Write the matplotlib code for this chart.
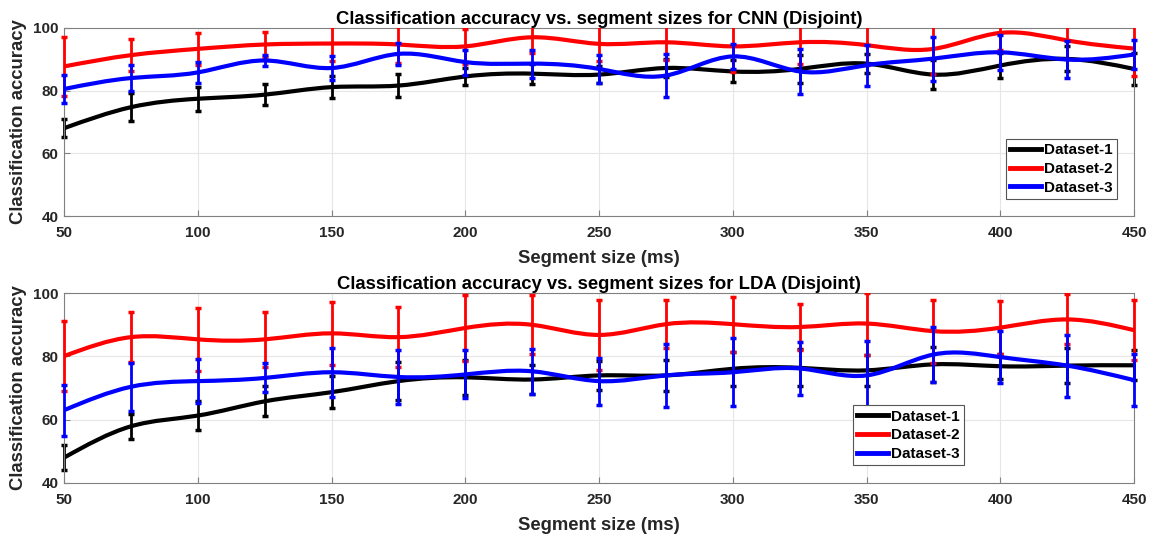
import matplotlib
matplotlib.use("Agg")
import matplotlib.pyplot as plt
import numpy as np
from matplotlib.path import Path
from matplotlib.patches import PathPatch, Rectangle
from matplotlib.lines import Line2D

plt.rcParams['font.family'] = ['Liberation Sans', 'DejaVu Sans']
plt.rcParams['font.weight'] = 'bold'

seg = [50, 75, 100, 125, 150, 175, 200, 225, 250, 275, 300, 325, 350, 375, 400, 425, 450]

# CNN (Disjoint)
cnn_d1 = [68.0, 74.7, 77.4, 78.7, 81.1, 81.6, 84.5, 85.4, 85.1, 87.2, 86.1, 86.9, 88.6, 85.1, 88.0, 90.1, 86.9]
cnn_d1_err = [2.9, 4.5, 3.9, 3.4, 3.4, 3.8, 2.8, 3.2, 2.8, 3.0, 3.5, 4.5, 3.0, 4.5, 4.0, 4.0, 5.0]
cnn_d2 = [87.7, 91.3, 93.3, 94.7, 95.0, 94.7, 94.1, 97.0, 94.9, 95.4, 94.1, 95.4, 94.5, 93.3, 98.4, 96.0, 93.4]
cnn_d2_err = [9.5, 5.2, 5.0, 4.0, 5.5, 6.0, 5.5, 5.0, 5.6, 5.8, 8.3, 7.0, 6.5, 8.0, 5.5, 6.0, 8.6]
cnn_d3 = [80.5, 84.0, 85.8, 89.6, 87.2, 91.7, 89.1, 88.6, 86.9, 84.8, 90.9, 86.1, 88.1, 90.2, 92.2, 89.9, 91.5]
cnn_d3_err = [4.5, 4.0, 3.3, 1.8, 3.8, 3.5, 4.0, 4.5, 4.5, 7.0, 4.0, 7.3, 6.5, 7.0, 5.6, 6.0, 4.7]

# LDA (Disjoint)
lda_d1 = [48.0, 57.9, 61.3, 65.8, 68.7, 72.2, 73.4, 72.7, 74.0, 74.0, 76.1, 76.4, 75.6, 77.5, 76.9, 77.1, 77.2]
lda_d1_err = [4.0, 4.0, 4.6, 4.7, 5.0, 6.0, 5.5, 4.5, 4.5, 5.0, 5.4, 5.8, 4.9, 5.6, 4.0, 5.5, 4.8]
lda_d2 = [80.1, 86.1, 85.4, 85.4, 87.3, 86.1, 89.0, 90.0, 86.8, 90.2, 90.2, 89.3, 90.4, 88.0, 89.1, 91.7, 88.3]
lda_d2_err = [11.0, 8.0, 10.0, 8.7, 10.0, 9.5, 10.3, 9.3, 11.0, 7.5, 8.7, 7.4, 9.8, 10.0, 8.4, 7.9, 9.5]
lda_d3 = [63.0, 70.4, 72.2, 73.2, 75.0, 73.5, 74.3, 75.3, 72.2, 74.0, 75.0, 76.2, 74.0, 80.6, 79.8, 77.1, 72.5]
lda_d3_err = [8.0, 7.5, 6.9, 4.6, 7.8, 8.4, 7.6, 7.1, 7.4, 10.0, 10.7, 8.5, 11.0, 8.6, 8.3, 9.8, 8.2]

names = ['Dataset-1', 'Dataset-2', 'Dataset-3']
colors = ['black', 'red', 'blue']


def spline_path(x, y):
    # natural cubic spline through the points, drawn as bezier segments
    x = np.asarray(x, float)
    y = np.asarray(y, float)
    n = len(x)
    h = x[1] - x[0]
    A = np.zeros((n, n))
    b = np.zeros(n)
    A[0, 0], A[0, 1] = 2, 1
    b[0] = 3 * (y[1] - y[0]) / h
    A[-1, -2], A[-1, -1] = 1, 2
    b[-1] = 3 * (y[-1] - y[-2]) / h
    for i in range(1, n - 1):
        A[i, i - 1], A[i, i], A[i, i + 1] = 1, 4, 1
        b[i] = 3 * (y[i + 1] - y[i - 1]) / h
    m = np.linalg.solve(A, b)
    verts = [(x[0], y[0])]
    codes = [Path.MOVETO]
    for i in range(n - 1):
        verts += [(x[i] + h / 3, y[i] + m[i] * h / 3),
                  (x[i + 1] - h / 3, y[i + 1] - m[i + 1] * h / 3),
                  (x[i + 1], y[i + 1])]
        codes += [Path.CURVE4] * 3
    return Path(verts, codes)


fig = plt.figure(figsize=(11.56, 5.36), dpi=100)
ax1 = fig.add_axes([0.0554, 0.597, 0.9256, 0.351])
ax2 = fig.add_axes([0.0554, 0.099, 0.9256, 0.354])

panels = [
    (ax1, [cnn_d1, cnn_d2, cnn_d3], [cnn_d1_err, cnn_d2_err, cnn_d3_err],
     'Classification accuracy vs. segment sizes for CNN (Disjoint)', (0.88, 0.41)),
    (ax2, [lda_d1, lda_d2, lda_d3], [lda_d1_err, lda_d2_err, lda_d3_err],
     'Classification accuracy vs. segment sizes for LDA (Disjoint)', (0.737, 0.41)),
]

for ax, series, errs, title, leg_pos in panels:
    # clip box a little wider than the axes so the end bars show fully
    clip = Rectangle((-0.02, 0), 1.04, 1, transform=ax.transAxes,
                     facecolor='none', edgecolor='none')
    for k, (vals, err) in enumerate(zip(series, errs)):
        eb = ax.errorbar(seg, vals, yerr=err, fmt='none', ecolor=colors[k],
                         elinewidth=2, capsize=2.5, capthick=2.5, zorder=2 + k)
        for art in eb.lines[1] + eb.lines[2]:
            art.set_clip_path(clip)
        ax.add_patch(PathPatch(spline_path(seg, vals), facecolor='none',
                               edgecolor=colors[k], lw=3, zorder=2.5 + k,
                               capstyle='round'))
    ax.set_xlim(50, 450)
    ax.set_ylim(40, 100)
    ax.set_xticks(range(50, 451, 50))
    ax.set_yticks(range(40, 101, 20))
    ax.grid(True, color='#e6e6e6', lw=0.8)
    ax.set_axisbelow(True)
    ax.tick_params(direction='in', labelsize=11, length=4, color='#808080')
    ax.tick_params(axis='x', pad=7)
    ax.tick_params(axis='y', pad=4)
    for lab in ax.get_xticklabels() + ax.get_yticklabels():
        lab.set_fontweight('bold')
        lab.set_color('#262626')
    for sp in ax.spines.values():
        sp.set_color('#808080')
        sp.set_linewidth(0.8)
    ax.set_title(title, fontsize=13.3, fontweight='bold', pad=2.5)
    ax.set_xlabel('Segment size (ms)', fontsize=13.3, fontweight='bold', labelpad=7.5, color='#262626')
    ax.set_ylabel('Classification accuracy', fontsize=13.3, fontweight='bold', labelpad=4, color='#262626')
    handles = [Line2D([], [], color=c, lw=3.5) for c in colors]
    leg = ax.legend(handles, names, loc='upper left', bbox_to_anchor=leg_pos,
                    fontsize=11, frameon=True, fancybox=False, handlelength=2.0,
                    handletextpad=0.2, borderpad=0.3, labelspacing=0.3,
                    borderaxespad=0, framealpha=1)
    leg.get_frame().set_edgecolor('#555555')
    leg.get_frame().set_linewidth(0.8)
    for t in leg.get_texts():
        t.set_fontweight('bold')

fig.savefig('out.png', dpi=100)
